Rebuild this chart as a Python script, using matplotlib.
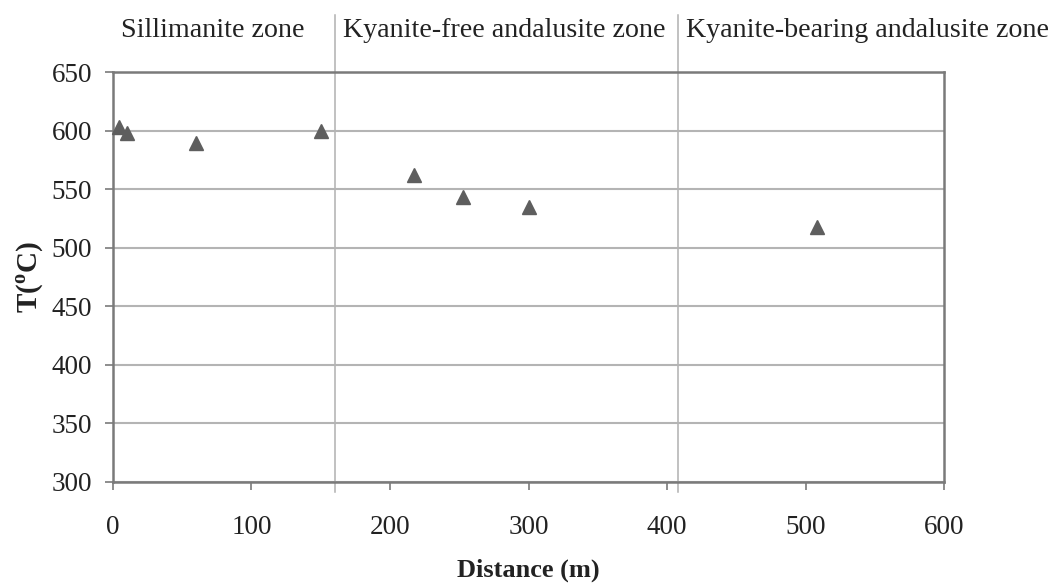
import matplotlib
matplotlib.use("Agg")
import matplotlib.pyplot as plt

plt.rcParams['font.family'] = ['Liberation Serif', 'DejaVu Serif']
plt.rcParams['mathtext.fontset'] = 'custom'
plt.rcParams['mathtext.rm'] = 'Liberation Serif'
plt.rcParams['mathtext.bf'] = 'Liberation Serif:bold'

# temperature estimates along the traverse
distance = [4, 10, 60, 150, 217, 253, 300, 508]
temperature = [603, 598, 589, 600, 562, 543, 535, 518]

# zone boundaries (m) and zone names
zone_start = [0, 160, 408]
zone_names = ['Sillimanite zone', 'Kyanite-free andalusite zone',
              'Kyanite-bearing andalusite zone']

xticks = [0, 100, 200, 300, 400, 500, 600]
yticks = [300, 350, 400, 450, 500, 550, 600, 650]

txt = '#222222'
fig = plt.figure(figsize=(10.53, 5.87), dpi=100)
ax = fig.add_axes([0.1073, 0.1789, 0.7892, 0.6984])

ax.set_xlim(0, 600)
ax.set_ylim(300, 650)
ax.set_xticks(xticks)
ax.set_yticks(yticks)
ax.yaxis.grid(True, color='#b4b4b4', linewidth=1.5)
ax.set_axisbelow(True)

for s in ax.spines.values():
    s.set_color('#7a7a7a')
    s.set_linewidth(1.8)
ax.tick_params(axis='both', colors='#7a7a7a', labelcolor=txt, labelsize=19.5,
               length=6, width=1.2, direction='out')
ax.tick_params(axis='x', pad=18)
ax.tick_params(axis='y', pad=9)

# zone boundaries run up through the header
for x0 in zone_start[1:]:
    ax.axvline(x0, ymin=-0.024, ymax=1.139, color='#b0b0b0', linewidth=1.1,
               clip_on=False, zorder=0)

for x0, name in zip(zone_start, zone_names):
    ax.annotate(name, xy=(x0, 1.0), xycoords=('data', 'axes fraction'),
                xytext=(6, 30), textcoords='offset points',
                ha='left', va='center', fontsize=20.2, color=txt,
                annotation_clip=False)

ax.plot(distance, temperature, linestyle='none', marker='^', markersize=10,
        color='#5e5e5e', clip_on=False, zorder=3)

ax.set_xlabel('Distance (m)', fontsize=19, fontweight='bold', color=txt,
              labelpad=13)
ax.set_ylabel(r'T($^\mathbf{o}$C)', fontsize=21, fontweight='bold', color=txt,
              labelpad=4)

fig.savefig('out.png', dpi=100)
